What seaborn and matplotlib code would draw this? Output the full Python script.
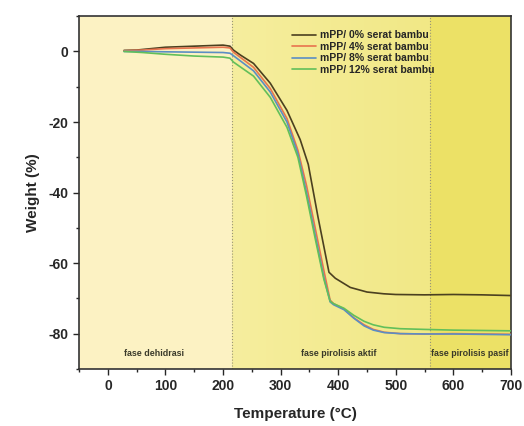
import numpy as np
import pandas as pd
import seaborn as sns
import matplotlib.pyplot as plt
from matplotlib.colors import LinearSegmentedColormap
from matplotlib.ticker import MultipleLocator

# TGA curves (temperature in degC, weight change in %)
t_0 = [28, 50, 75, 100, 150, 200, 212, 218, 230, 253, 282, 311, 334, 348, 365, 384,
       395, 421, 450, 479, 500, 550, 600, 650, 700]
w_0 = [0.3, 0.4, 0.8, 1.2, 1.5, 1.8, 1.5, 0.4, -1.0, -3.4, -9.0, -16.7, -25.0, -32.0, -47.0, -62.6,
       -64.3, -66.9, -68.2, -68.7, -68.9, -69.0, -68.9, -69.0, -69.2]

t_4 = [28, 60, 100, 150, 200, 212, 218, 253, 282, 311, 330, 345, 360, 375, 386,
       392, 410, 427, 445, 461, 480, 508, 550, 600, 650, 700]
w_4 = [0.2, 0.4, 0.8, 1.0, 1.2, 1.0, -0.2, -4.5, -10.5, -19.0, -28.0, -38.0, -50.0, -62.0, -70.5,
       -71.5, -73.0, -75.5, -77.5, -78.8, -79.6, -80.0, -80.1, -80.0, -80.1, -80.2]

t_8 = [28, 60, 100, 150, 200, 212, 218, 253, 282, 311, 330, 345, 360, 375, 386,
       392, 410, 427, 445, 461, 480, 508, 550, 600, 650, 700]
w_8 = [0.0, 0.0, -0.1, -0.2, -0.3, -0.5, -1.2, -5.5, -11.5, -20.0, -29.0, -40.0, -52.0, -64.0, -71.0,
       -71.8, -73.2, -75.6, -77.8, -79.0, -79.7, -80.0, -80.1, -80.1, -80.2, -80.3]

t_12 = [28, 60, 100, 150, 200, 212, 218, 253, 282, 311, 330, 345, 360, 375, 386,
        392, 410, 427, 445, 461, 480, 508, 550, 600, 650, 700]
w_12 = [0.0, -0.3, -0.8, -1.3, -1.6, -1.9, -3.0, -7.0, -13.0, -21.5, -30.0, -41.0, -53.0, -64.5, -70.8,
        -71.5, -72.8, -74.8, -76.5, -77.5, -78.2, -78.6, -78.8, -79.0, -79.1, -79.2]

labels = ["mPP/ 0% serat bambu", "mPP/ 4% serat bambu",
          "mPP/ 8% serat bambu", "mPP/ 12% serat bambu"]
colors = ["#4b4020", "#e8744e", "#5b8ec4", "#62bf5a"]

phases = ["fase dehidrasi", "fase pirolisis aktif", "fase pirolisis pasif"]
phase_edges = [-50, 215, 560, 700]
phase_text_x = [80, 400, 629]

frames = []
for lab, t, w in zip(labels, [t_0, t_4, t_8, t_12], [w_0, w_4, w_8, w_12]):
    frames.append(pd.DataFrame({"T": t, "W": w, "sample": lab}))
df = pd.concat(frames, ignore_index=True)

sns.set_style("ticks")
plt.rcParams['font.family'] = ['Liberation Sans', 'DejaVu Sans']
plt.rcParams['axes.unicode_minus'] = False

fig = plt.figure(figsize=(5.24, 4.26), dpi=100)
ax = fig.add_axes([0.151, 0.134, 0.824, 0.828])

# phase backgrounds
ax.axvspan(phase_edges[0], phase_edges[1], color="#fcf2c3", zorder=0, lw=0)
grad = LinearSegmentedColormap.from_list("g", ["#f6ee9e", "#f1e886"])
ax.imshow(np.linspace(0, 1, 100).reshape(1, -1), cmap=grad, aspect="auto",
          extent=[phase_edges[1], phase_edges[2], -90, 10], zorder=0)
ax.axvspan(phase_edges[2], phase_edges[3], color="#ece166", zorder=0, lw=0)
for e in phase_edges[1:3]:
    ax.axvline(e, color="#9a9578", lw=0.8, ls=":", zorder=1)

sns.lineplot(data=df, x="T", y="W", hue="sample", palette=colors, sort=False,
             estimator=None, lw=1.2, ax=ax, zorder=3)

for name, xc in zip(phases, phase_text_x):
    ax.text(xc, -85.5, name, ha="center", va="center", fontsize=6.4,
            fontweight="bold", color="#3a3a2a")

ax.set_xlim(-50, 700)
ax.set_ylim(-90, 10)
ax.xaxis.set_major_locator(MultipleLocator(100))
ax.xaxis.set_minor_locator(MultipleLocator(50))
ax.yaxis.set_major_locator(MultipleLocator(20))
ax.yaxis.set_minor_locator(MultipleLocator(10))
ax.tick_params(which="major", length=4, width=1, labelsize=10)
ax.tick_params(which="minor", length=2.5, width=1)
for lbl in ax.get_xticklabels() + ax.get_yticklabels():
    lbl.set_fontweight("bold")
for s in ax.spines.values():
    s.set_linewidth(1.2)
    s.set_color("#333333")

ax.set_xlabel("Temperature (°C)", fontsize=11, fontweight="bold", labelpad=10)
ax.set_ylabel("Weight (%)", fontsize=11, fontweight="bold", labelpad=6)

ax.legend(loc="upper left", bbox_to_anchor=(0.48, 0.975), frameon=False,
          handlelength=2.3, labelspacing=0.15, borderpad=0,
          handletextpad=0.4, prop={"weight": "bold", "size": 7.5})

fig.savefig("out.png", dpi=100)
